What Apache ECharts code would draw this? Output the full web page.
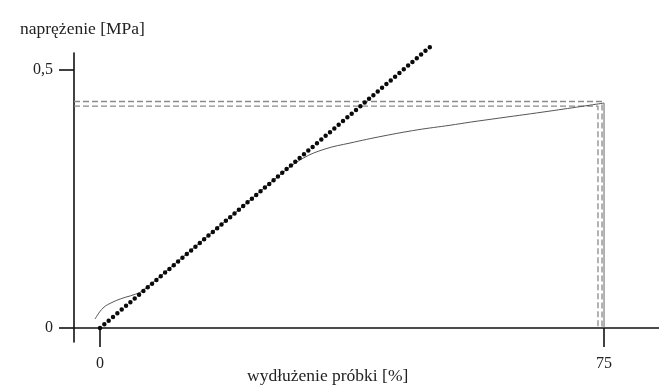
<!DOCTYPE html>
<html>
<head>
<meta charset="utf-8">
<script src="https://cdn.jsdelivr.net/npm/echarts@6/dist/echarts.min.js"></script>
<style>html,body{margin:0;padding:0;background:#fff}#c{width:659px;height:385px}</style>
</head>
<body>
<div id="c"></div>
<script>
// strain [%], stress [MPa]
var curveX = [-0.74, 0.45, 1.93, 3.42, 4.91, 6.25, 12, 20, 27, 30.2, 33.5, 37.2, 42.1, 47.2, 52.1, 55.1, 59.5, 66.96, 75];
var curveY = [0.0174, 0.0388, 0.0504, 0.0581, 0.064, 0.0717, 0.134, 0.222, 0.299, 0.329, 0.347, 0.3585, 0.372, 0.384, 0.393, 0.399, 0.407, 0.4205, 0.436];
var breakX = [75, 75];
var breakY = [0.436, 0];
var tangentX = [0, 49.4];
var tangentY = [0, 0.548];
var maxLevels = [0.439, 0.430];
var maxStrains = [74.7, 74.1];
var xTicks = [0, 75];
var yTicks = [0, 0.5];
var xMin = -3.87, xMax = 83.18, yMin = -0.0271, yMax = 0.533;

var FONT = "'Liberation Serif','Times New Roman',serif";
function pairs(xs, ys){ return xs.map(function(x,i){ return [x, ys[i]]; }); }

var dashSeries = maxLevels.map(function(lv, i){
  return {
    type: 'line', data: [[xMin, lv], [maxStrains[i], lv], [maxStrains[i], 0]],
    symbol: 'none', silent: true, z: 1,
    lineStyle: { color: '#8a8a8a', width: 1.3, type: [6, 3] }
  };
});

var chart = echarts.init(document.getElementById('c'), null, { renderer: 'canvas' });
chart.setOption({
  animation: false,
  backgroundColor: '#fff',
  title: [
    { text: 'naprężenie [MPa]', left: 15, top: 15, textStyle: { fontFamily: FONT, fontSize: 17.5, fontWeight: 'normal', color: '#222' } },
    { text: 'wydłużenie próbki [%]', left: 242, top: 362, textStyle: { fontFamily: FONT, fontSize: 17.5, fontWeight: 'normal', color: '#222' } }
  ],
  grid: { left: 74, top: 53, width: 585, height: 289, containLabel: false },
  xAxis: {
    type: 'value', min: xMin, max: xMax,
    axisLine: { onZero: true, lineStyle: { color: '#111', width: 1.6 } },
    axisTick: { show: true, length: 19, customValues: xTicks, lineStyle: { color: '#111', width: 1.6 } },
    axisLabel: { customValues: xTicks, margin: 14, fontFamily: FONT, fontSize: 16, color: '#222' },
    splitLine: { show: false }
  },
  yAxis: {
    type: 'value', min: yMin, max: yMax,
    axisLine: { show: true, onZero: false, lineStyle: { color: '#111', width: 1.6 } },
    axisTick: { show: true, length: 15, customValues: yTicks, lineStyle: { color: '#111', width: 1.6 } },
    axisLabel: { customValues: yTicks, margin: 21, fontFamily: FONT, fontSize: 16, color: '#222',
      formatter: function(v){ return String(v).replace('.', ','); } },
    splitLine: { show: false }
  },
  series: dashSeries.concat([
    { type: 'line', data: pairs(curveX, curveY), smooth: 0.4, symbol: 'none', silent: true, z: 2,
      lineStyle: { color: '#555', width: 1 } },
    { type: 'line', data: pairs(breakX, breakY), symbol: 'none', silent: true, z: 2,
      lineStyle: { color: '#666', width: 1 } },
    { type: 'line', data: pairs(tangentX, tangentY), symbol: 'none', silent: true, z: 3, clip: false,
      lineStyle: { color: '#0a0a0a', width: 4.5, type: [0, 5.7], cap: 'round' } }
  ])
});
</script>
</body>
</html>
